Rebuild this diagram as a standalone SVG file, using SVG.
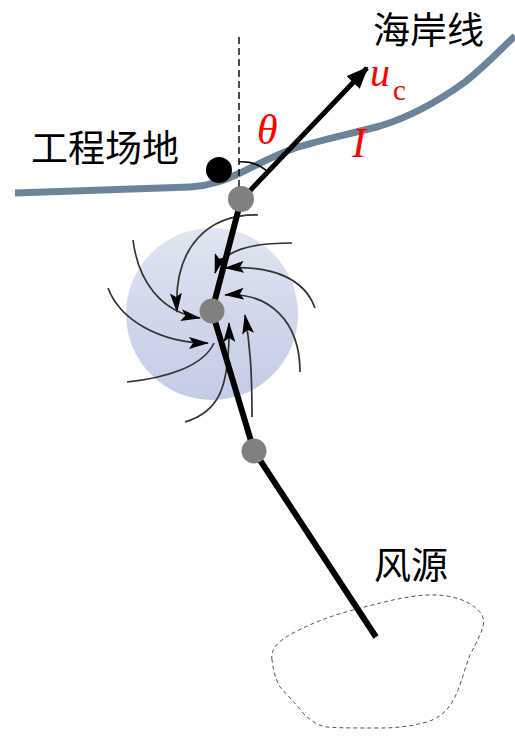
<svg xmlns="http://www.w3.org/2000/svg" width="515" height="738" viewBox="0 0 515 738">
  <style>
    .cjk { font-family: "Noto Sans CJK SC", "Noto Sans", sans-serif; font-size: 37px; fill: #000; }
    .sym { font-family: "Liberation Serif", "Times New Roman", serif; fill: #ff0000; }
    .it { font-style: italic; }
    .up { font-style: normal; }
    .flow { fill: none; stroke: #333; stroke-width: 1.7; }
    .track { fill: none; stroke: #000; stroke-width: 6; stroke-linecap: butt; }
    .pos { fill: #808080; }
  </style>
  <defs>
    <linearGradient id="cycloneFill" x1="0" y1="0" x2="0" y2="1">
      <stop offset="0" stop-color="#e0e5f1"/>
      <stop offset="1" stop-color="#c4cbe5"/>
    </linearGradient>
    <marker id="flowHead" markerUnits="userSpaceOnUse" viewBox="0 0 20 12" refX="19" refY="6" markerWidth="20" markerHeight="12" orient="auto">
      <path d="M0,0 L20,6 L0,12 L4,6 z" fill="#000"/>
    </marker>
    <marker id="bigHead" markerUnits="userSpaceOnUse" viewBox="0 0 22 18" refX="20" refY="9" markerWidth="22" markerHeight="18" orient="auto">
      <path d="M0,0 L22,9 L0,18 z" fill="#000"/>
    </marker>
  </defs>

  <!-- coastline -->
  <g id="coastline">
    <path d="M15,193 L190,187 C210,186 225,180 240,173 S275,155 295,148 C320,140 350,134 380,126 C410,117 440,100 465,82 C485,66 500,50 515,36" fill="none" stroke="#6b8499" stroke-width="7"/>
  </g>

  <!-- north reference -->
  <g id="north-ref">
    <line x1="239" y1="37" x2="239" y2="192" stroke="#000" stroke-width="1.4" stroke-dasharray="7,4"/>
    <path d="M239,162 A38,38 0 0 1 268,172" fill="none" stroke="#000" stroke-width="1.5"/>
  </g>

  <!-- wind source region -->
  <g id="source-region">
    <path d="M272,660 C270,648 280,640 293,633 C310,624 330,616 353,610 C380,603 405,596 427,595 C450,594 468,600 478,610 C488,620 484,628 470,655 C466,665 462,680 458,690 C452,705 445,715 430,721 C410,727 395,728 377,728 C355,728 340,728 327,727 C315,725 308,718 303,713 C295,703 287,695 280,687 C276,680 273,670 272,660 z" fill="none" stroke="#555" stroke-width="1" stroke-dasharray="4,3"/>
  </g>

  <!-- cyclone -->
  <g id="cyclone">
    <circle cx="212" cy="314" r="86" fill="url(#cycloneFill)"/>
  </g>

  <!-- inflow streamlines -->
  <g id="connectors">
    <path class="flow" d="M258,215 C210,214 173,245 177,312" marker-end="url(#flowHead)"/>
    <path class="flow" d="M133,240 C138,280 160,312 200,318" marker-end="url(#flowHead)"/>
    <path class="flow" d="M108,288 C120,320 160,343 208,343" marker-end="url(#flowHead)"/>
    <path class="flow" d="M127,382 C165,378 203,367 214,343"/>
    <path class="flow" d="M185,422 C218,412 230,390 229,323" marker-end="url(#flowHead)"/>
    <path class="flow" d="M252,417 C252,370 250,345 245,315" marker-end="url(#flowHead)"/>
    <path class="flow" d="M300,372 C300,320 268,292 225,295" marker-end="url(#flowHead)"/>
    <path class="flow" d="M315,308 C305,280 275,265 225,268" marker-end="url(#flowHead)"/>
    <path class="flow" d="M292,243 C250,243 222,250 215,273" marker-end="url(#flowHead)"/>

    <!-- storm track -->
    <polyline class="track" points="376,637 254,451 212,311 241,200"/>

    <!-- translation velocity -->
    <line x1="241" y1="200" x2="367" y2="68" stroke="#000" stroke-width="5" marker-end="url(#bigHead)"/>
  </g>

  <!-- track positions -->
  <g id="site">
    <circle cx="219" cy="170" r="13" fill="#000"/>
  </g>
  <g id="landfall">
    <circle class="pos" cx="241" cy="199" r="13"/>
  </g>
  <g id="center">
    <circle class="pos" cx="212" cy="311" r="12.5"/>
  </g>
  <g id="track-point">
    <circle class="pos" cx="254" cy="451" r="12.5"/>
  </g>

  <!-- labels -->
  <g id="labels">
    <text class="cjk" x="373" y="44">海岸线</text>
    <text class="cjk" x="31" y="162">工程场地</text>
    <text class="cjk" x="374" y="579">风源</text>
    <text class="sym it" x="257" y="144" font-size="42">θ</text>
    <text class="sym it" x="370" y="86" font-size="40">u</text>
    <text class="sym up" x="393" y="100" font-size="29">c</text>
    <text class="sym it" x="352" y="157" font-size="42">I</text>
  </g>
</svg>
